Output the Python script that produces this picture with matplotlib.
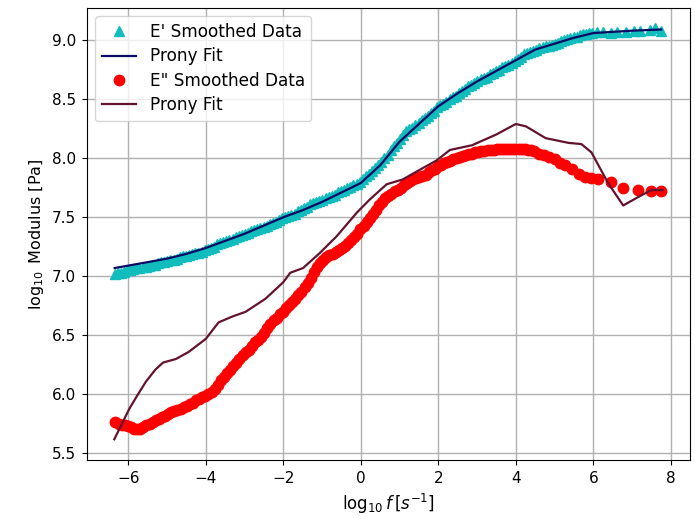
import matplotlib
matplotlib.use("Agg")
import matplotlib.pyplot as plt

# E' smoothed data (log10 f, log10 E')
ep_x = [-6.35, -6.27, -6.19, -6.11, -6.03, -5.95, -5.87, -5.79, -5.71, -5.63, -5.55, -5.47,
        -5.39, -5.31, -5.23, -5.15, -5.07, -4.99, -4.91, -4.83, -4.75, -4.67, -4.59, -4.51,
        -4.43, -4.35, -4.27, -4.19, -4.11, -4.03, -3.95, -3.87, -3.79, -3.71, -3.63, -3.55,
        -3.47, -3.39, -3.31, -3.23, -3.15, -3.07, -2.99, -2.91, -2.83, -2.75, -2.67, -2.59,
        -2.51, -2.43, -2.35, -2.27, -2.19, -2.11, -2.03, -1.95, -1.87, -1.79, -1.71, -1.63,
        -1.55, -1.47, -1.39, -1.31, -1.23, -1.15, -1.07, -0.99, -0.91, -0.83, -0.75, -0.67,
        -0.59, -0.51, -0.43, -0.35, -0.27, -0.19, -0.11, -0.03, 0.05, 0.13, 0.21, 0.29,
        0.37, 0.45, 0.53, 0.61, 0.69, 0.77, 0.85, 0.93, 1.01, 1.09, 1.17, 1.25,
        1.33, 1.41, 1.49, 1.57, 1.65, 1.73, 1.81, 1.89, 1.97, 2.05, 2.13, 2.21,
        2.29, 2.37, 2.45, 2.53, 2.61, 2.69, 2.77, 2.85, 2.93, 3.01, 3.09, 3.17,
        3.25, 3.33, 3.41, 3.49, 3.57, 3.65, 3.73, 3.81, 3.89, 3.97, 4.05, 4.13,
        4.21, 4.29, 4.37, 4.45, 4.53, 4.61, 4.69, 4.77, 4.85, 4.93, 5.01, 5.09,
        5.17, 5.25, 5.33, 5.41, 5.49, 5.57, 5.65, 5.73, 5.81, 5.89, 5.97, 6.10,
        6.25, 6.45, 6.60, 6.85, 7.05, 7.20, 7.45, 7.60, 7.75]
ep_y = [7.02, 7.03, 7.03, 7.04, 7.05, 7.05, 7.06, 7.07, 7.07, 7.08, 7.08, 7.09,
        7.10, 7.10, 7.11, 7.12, 7.12, 7.13, 7.14, 7.14, 7.15, 7.16, 7.17, 7.17,
        7.18, 7.19, 7.20, 7.20, 7.21, 7.22, 7.23, 7.24, 7.25, 7.27, 7.28, 7.29,
        7.30, 7.31, 7.32, 7.33, 7.34, 7.35, 7.36, 7.37, 7.38, 7.39, 7.40, 7.41,
        7.42, 7.43, 7.44, 7.45, 7.46, 7.48, 7.49, 7.50, 7.51, 7.52, 7.53, 7.55,
        7.56, 7.58, 7.59, 7.61, 7.62, 7.63, 7.64, 7.65, 7.66, 7.67, 7.68, 7.69,
        7.71, 7.72, 7.73, 7.75, 7.76, 7.77, 7.78, 7.80, 7.82, 7.85, 7.87, 7.89,
        7.92, 7.94, 7.97, 8.00, 8.03, 8.07, 8.10, 8.13, 8.16, 8.20, 8.23, 8.25,
        8.26, 8.28, 8.30, 8.32, 8.34, 8.36, 8.38, 8.40, 8.43, 8.45, 8.46, 8.48,
        8.50, 8.52, 8.53, 8.55, 8.57, 8.59, 8.61, 8.62, 8.64, 8.65, 8.67, 8.68,
        8.69, 8.71, 8.72, 8.74, 8.75, 8.77, 8.78, 8.79, 8.81, 8.82, 8.84, 8.86,
        8.88, 8.89, 8.90, 8.91, 8.92, 8.93, 8.94, 8.95, 8.95, 8.96, 8.97, 8.98,
        8.99, 9.00, 9.01, 9.02, 9.03, 9.03, 9.04, 9.05, 9.05, 9.06, 9.06, 9.07,
        9.07, 9.06, 9.07, 9.07, 9.08, 9.08, 9.09, 9.10, 9.08]

# E' Prony fit
epf_x = [-6.35, -5.5, -5.0, -4.5, -4.0, -3.5, -3.0, -2.5, -2.0, -1.5, -1.0, -0.5, 0.0,
         0.5, 1.0, 1.5, 2.0, 2.5, 3.0, 3.5, 4.0, 4.5, 5.0, 5.5, 6.0, 6.5, 7.0, 7.75]
epf_y = [7.07, 7.12, 7.15, 7.19, 7.24, 7.30, 7.36, 7.43, 7.50, 7.56, 7.63, 7.71, 7.79,
         7.94, 8.14, 8.29, 8.44, 8.55, 8.65, 8.74, 8.83, 8.92, 8.97, 9.02, 9.06, 9.07, 9.08, 9.09]

# E'' smoothed data
epp_x = [-6.33, -6.25, -6.17, -6.09, -6.01, -5.93, -5.85, -5.77, -5.69, -5.61, -5.53, -5.45,
         -5.37, -5.29, -5.21, -5.13, -5.05, -4.97, -4.89, -4.81, -4.73, -4.65, -4.57, -4.49,
         -4.41, -4.33, -4.25, -4.17, -4.09, -4.01, -3.93, -3.85, -3.77, -3.69, -3.61, -3.53,
         -3.45, -3.37, -3.29, -3.21, -3.13, -3.05, -2.97, -2.89, -2.81, -2.73, -2.65, -2.57,
         -2.49, -2.41, -2.33, -2.25, -2.17, -2.09, -2.01, -1.93, -1.85, -1.77, -1.69, -1.61,
         -1.53, -1.45, -1.37, -1.29, -1.21, -1.13, -1.05, -0.97, -0.89, -0.81, -0.73, -0.65,
         -0.57, -0.49, -0.41, -0.33, -0.25, -0.17, -0.09, -0.01, 0.07, 0.15, 0.23, 0.31,
         0.39, 0.47, 0.55, 0.63, 0.71, 0.79, 0.87, 0.95, 1.03, 1.11, 1.19, 1.27,
         1.35, 1.43, 1.51, 1.59, 1.67, 1.75, 1.83, 1.91, 1.99, 2.07, 2.15, 2.23,
         2.31, 2.39, 2.47, 2.55, 2.63, 2.71, 2.79, 2.87, 2.95, 3.03, 3.11, 3.19,
         3.27, 3.35, 3.43, 3.51, 3.59, 3.67, 3.75, 3.83, 3.91, 3.99, 4.07, 4.15,
         4.23, 4.31, 4.39, 4.47, 4.60, 4.72, 4.85, 5.00, 5.15, 5.28, 5.44, 5.62,
         5.79, 5.95, 6.13, 6.46, 6.77, 7.15, 7.49, 7.74]
epp_y = [5.77, 5.75, 5.74, 5.74, 5.73, 5.72, 5.71, 5.71, 5.71, 5.72, 5.74, 5.75,
         5.77, 5.78, 5.79, 5.81, 5.82, 5.83, 5.85, 5.86, 5.87, 5.88, 5.89, 5.90,
         5.92, 5.93, 5.95, 5.96, 5.98, 5.99, 6.00, 6.02, 6.05, 6.08, 6.12, 6.15,
         6.18, 6.21, 6.24, 6.27, 6.30, 6.33, 6.36, 6.38, 6.41, 6.44, 6.46, 6.49,
         6.52, 6.56, 6.60, 6.63, 6.65, 6.68, 6.70, 6.73, 6.76, 6.78, 6.81, 6.84,
         6.87, 6.91, 6.94, 6.99, 7.04, 7.08, 7.11, 7.14, 7.16, 7.18, 7.19, 7.21,
         7.22, 7.24, 7.26, 7.28, 7.31, 7.33, 7.36, 7.40, 7.43, 7.46, 7.49, 7.53,
         7.56, 7.60, 7.63, 7.66, 7.68, 7.70, 7.72, 7.73, 7.75, 7.77, 7.79, 7.81,
         7.82, 7.83, 7.84, 7.85, 7.86, 7.88, 7.90, 7.91, 7.93, 7.94, 7.96, 7.97,
         7.98, 7.99, 8.00, 8.01, 8.02, 8.03, 8.04, 8.04, 8.05, 8.05, 8.06, 8.06,
         8.07, 8.07, 8.07, 8.08, 8.08, 8.08, 8.08, 8.08, 8.08, 8.08, 8.08, 8.08,
         8.08, 8.07, 8.07, 8.06, 8.04, 8.03, 8.01, 7.99, 7.96, 7.94, 7.91, 7.87,
         7.84, 7.83, 7.82, 7.80, 7.75, 7.73, 7.72, 7.72]

# E'' Prony fit
eppf_x = [-6.36, -6.15, -5.97, -5.75, -5.54, -5.30, -5.10, -4.77, -4.44, -4.0, -3.67, -3.31,
          -2.97, -2.46, -2.0, -1.82, -1.49, -1.05, -0.62, -0.1, 0.23, 0.67, 1.08, 1.51, 1.95,
          2.3, 2.87, 3.49, 4.0, 4.26, 4.77, 5.36, 5.69, 5.95, 6.38, 6.77, 7.15, 7.49, 7.79]
eppf_y = [5.62, 5.76, 5.88, 6.00, 6.11, 6.21, 6.27, 6.30, 6.36, 6.47, 6.61, 6.66,
          6.70, 6.81, 6.95, 7.03, 7.07, 7.20, 7.34, 7.54, 7.65, 7.78, 7.82, 7.90, 7.98,
          8.07, 8.11, 8.20, 8.29, 8.27, 8.17, 8.13, 8.12, 8.05, 7.79, 7.60, 7.67, 7.73, 7.73]

fig, ax = plt.subplots(figsize=(6.95, 5.19), dpi=100)
fig.subplots_adjust(left=0.125, right=0.993, top=0.985, bottom=0.114)

ax.plot(ep_x, ep_y, '^', color='#10bcbc', markersize=6.5, label="E' Smoothed Data")
ax.plot(epf_x, epf_y, '-', color='#0b0b66', lw=1.6, label='Prony Fit')
ax.plot(epp_x, epp_y, 'o', color='#ff0000', markersize=7.5, label='E" Smoothed Data')
ax.plot(eppf_x, eppf_y, '-', color='#631330', lw=1.6, label='Prony Fit')

ax.grid(True, color='#b0b0b0', lw=1.0)
ax.set_axisbelow(True)
ax.tick_params(labelsize=11, pad=4.5)
ax.set_xlabel(r'$\log_{10}f\,[s^{-1}]$', fontsize=12)
ax.set_ylabel(r'$\log_{10}$ Modulus [Pa]', fontsize=11.5)
ax.legend(loc='upper left', fontsize=12.2, labelspacing=0.38)

fig.savefig('out.png', dpi=100)
